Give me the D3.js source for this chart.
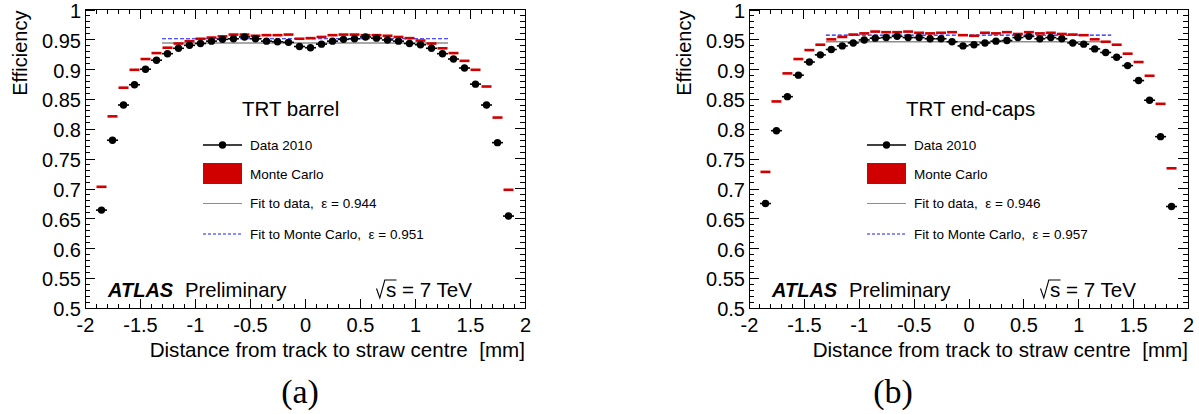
<!DOCTYPE html>
<html><head><meta charset="utf-8">
<script src="https://cdn.jsdelivr.net/npm/d3@7"></script>
<style>
body{margin:0;background:#fff}
text{font-family:"Liberation Sans",Arial,Helvetica,sans-serif;fill:#000}
</style>
</head><body>
<svg id="c" width="1199" height="414" xmlns="http://www.w3.org/2000/svg"></svg>
<script>
// ---------------- data ----------------
const binCentres = [-1.85,-1.75,-1.65,-1.55,-1.45,-1.35,-1.25,-1.15,-1.05,-0.95,-0.85,-0.75,-0.65,-0.55,-0.45,-0.35,-0.25,-0.15,-0.05,
                     0.05,0.15,0.25,0.35,0.45,0.55,0.65,0.75,0.85,0.95,1.05,1.15,1.25,1.35,1.45,1.55,1.65,1.75,1.85];
const binHalfWidth = 0.05;

const barrelData = [0.664,0.781,0.840,0.874,0.900,0.915,0.926,0.935,0.940,0.943,0.947,0.950,0.951,0.954,0.951,0.947,0.946,0.945,0.938,
                    0.936,0.942,0.947,0.950,0.951,0.954,0.952,0.949,0.947,0.943,0.941,0.935,0.926,0.917,0.902,0.875,0.840,0.777,0.654];
const barrelMC   = [0.703,0.821,0.869,0.899,0.917,0.927,0.936,0.943,0.947,0.951,0.953,0.955,0.958,0.958,0.956,0.957,0.957,0.958,0.951,
                    0.952,0.954,0.957,0.958,0.958,0.957,0.957,0.956,0.954,0.952,0.948,0.943,0.935,0.927,0.914,0.899,0.871,0.819,0.698];
const endcapData = [0.675,0.797,0.854,0.890,0.912,0.924,0.933,0.939,0.944,0.949,0.952,0.953,0.955,0.953,0.953,0.951,0.951,0.946,0.939,
                    0.941,0.944,0.947,0.948,0.953,0.955,0.951,0.953,0.951,0.944,0.942,0.934,0.928,0.920,0.906,0.881,0.848,0.787,0.670];
const endcapMC   = [0.728,0.846,0.893,0.917,0.932,0.941,0.950,0.954,0.958,0.960,0.963,0.962,0.962,0.963,0.961,0.960,0.961,0.962,0.957,
                    0.956,0.961,0.960,0.962,0.959,0.962,0.960,0.961,0.959,0.958,0.957,0.950,0.946,0.941,0.926,0.912,0.889,0.842,0.734];

const fitData  = [0.944, 0.946];
const fitMC    = [0.951, 0.957];
const fitRange = [-1.3, 1.3];

const panelTitles = ["TRT barrel", "TRT end-caps"];
const panelTags   = ["(a)", "(b)"];
const legendLabels = ["Data 2010", "Monte Carlo"];

const xTickValues = [-2,-1.5,-1,-0.5,0,0.5,1,1.5,2];
const xTickLabels = ["-2","-1.5","-1","-0.5","0","0.5","1","1.5","2"];
const yTickValues = [0.5,0.55,0.6,0.65,0.7,0.75,0.8,0.85,0.9,0.95,1];
const yTickLabels = ["0.5","0.55","0.6","0.65","0.7","0.75","0.8","0.85","0.9","0.95","1"];

const xTitle = "Distance from track to straw centre  [mm]";
const yTitle = "Efficiency";

// ---------------- drawing ----------------
const svg = d3.select("#c");
svg.append("rect").attr("width",1199).attr("height",414).attr("fill","#fff");

const RED = "#d00000", BLUE = "#1a1aff", GREY = "#8c8c8c";

const panels = [
  {left:85,  right:525,  data:barrelData, mc:barrelMC, tagX:300},
  {left:749, right:1188, data:endcapData, mc:endcapMC, tagX:893}
];
const plotTop = 9.5, plotBottom = 308;

panels.forEach((p, pi) => {
  const g = svg.append("g");
  const x = d3.scaleLinear().domain([-2, 2]).range([p.left, p.right]);
  const y = d3.scaleLinear().domain([0.5, 1]).range([plotBottom, plotTop]);

  // minor ticks
  const xMinor = d3.range(-20, 21).map(i => i / 10).filter(v => Math.abs(v*2 - Math.round(v*2)) > 1e-6);
  const yMinor = d3.range(50, 101).map(i => i / 100).filter(v => Math.abs(v*20 - Math.round(v*20)) > 1e-6);
  const tk = g.append("g").attr("stroke","#000").attr("stroke-width",1).attr("shape-rendering","crispEdges");
  xMinor.forEach(v => {
    tk.append("line").attr("x1",x(v)).attr("x2",x(v)).attr("y1",plotBottom).attr("y2",plotBottom-4.5);
    tk.append("line").attr("x1",x(v)).attr("x2",x(v)).attr("y1",plotTop).attr("y2",plotTop+4.5);
  });
  xTickValues.forEach(v => {
    tk.append("line").attr("x1",x(v)).attr("x2",x(v)).attr("y1",plotTop).attr("y2",plotTop+9);
  });
  yMinor.forEach(v => {
    tk.append("line").attr("x1",p.left).attr("x2",p.left+5).attr("y1",y(v)).attr("y2",y(v));
    tk.append("line").attr("x1",p.right).attr("x2",p.right-5).attr("y1",y(v)).attr("y2",y(v));
  });
  yTickValues.forEach(v => {
    tk.append("line").attr("x1",p.right).attr("x2",p.right-10).attr("y1",y(v)).attr("y2",y(v));
  });

  // axes with labels
  const xa = g.append("g").attr("transform",`translate(0,${plotBottom})`)
    .call(d3.axisBottom(x).tickValues(xTickValues).tickSize(-9).tickSizeOuter(0).tickPadding(10)
      .tickFormat((d,i) => xTickLabels[i]));
  const ya = g.append("g").attr("transform",`translate(${p.left},0)`)
    .call(d3.axisLeft(y).tickValues(yTickValues).tickSize(-10).tickSizeOuter(0).tickPadding(4)
      .tickFormat((d,i) => yTickLabels[i]));
  [xa, ya].forEach(a => {
    a.select(".domain").remove();
    a.selectAll("line").attr("stroke","#000").attr("shape-rendering","crispEdges");
    a.selectAll("text").style("font-family",'"Liberation Sans",Arial,sans-serif').style("font-size","20px").attr("fill","#000");
  });
  xa.selectAll("text").attr("dy","0.71em");
  ya.selectAll("text").attr("dy","0.39em");

  // frame
  g.append("rect").attr("x",p.left).attr("y",plotTop).attr("width",p.right-p.left).attr("height",plotBottom-plotTop)
    .attr("fill","none").attr("stroke","#000").attr("stroke-width",1).attr("shape-rendering","crispEdges");

  // fits
  g.append("line").attr("x1",x(fitRange[0])).attr("x2",x(fitRange[1]))
    .attr("y1",y(fitData[pi])).attr("y2",y(fitData[pi])).attr("stroke",GREY).attr("stroke-width",1.4);
  g.append("line").attr("x1",x(fitRange[0])).attr("x2",x(fitRange[1]))
    .attr("y1",y(fitMC[pi])).attr("y2",y(fitMC[pi])).attr("stroke",BLUE).attr("stroke-width",1.2)
    .attr("stroke-dasharray","4,2");

  // MC
  g.append("g").selectAll("rect").data(binCentres).join("rect")
    .attr("x", d => x(d - binHalfWidth) + 0.5)
    .attr("width", d => x(d + binHalfWidth) - x(d - binHalfWidth) - 1)
    .attr("y", (d,i) => y(p.mc[i]) - 1.3)
    .attr("height", 2.6)
    .attr("fill", RED);

  // data
  const dg = g.append("g");
  dg.selectAll("line").data(binCentres).join("line")
    .attr("x1", d => x(d - binHalfWidth)).attr("x2", d => x(d + binHalfWidth))
    .attr("y1", (d,i) => y(p.data[i])).attr("y2", (d,i) => y(p.data[i]))
    .attr("stroke","#000").attr("stroke-width",1.6);
  dg.selectAll("circle").data(binCentres).join("circle")
    .attr("cx", d => x(d)).attr("cy", (d,i) => y(p.data[i])).attr("r", 3.7).attr("fill","#000");

  // title text
  g.append("text").attr("x", p.left + 157).attr("y", 115.5).style("font-size","20.5px").text(panelTitles[pi]);

  // legend
  const lx = p.left + 118, lw = 39, tx = p.left + 165;
  g.append("line").attr("x1",lx).attr("x2",lx+lw).attr("y1",145).attr("y2",145).attr("stroke","#000").attr("stroke-width",1.6);
  g.append("circle").attr("cx",lx+lw/2).attr("cy",145).attr("r",3.7).attr("fill","#000");
  g.append("rect").attr("x",lx).attr("y",163).attr("width",lw).attr("height",21).attr("fill",RED);
  g.append("line").attr("x1",lx).attr("x2",lx+lw).attr("y1",203.5).attr("y2",203.5).attr("stroke",GREY).attr("stroke-width",1);
  g.append("line").attr("x1",lx).attr("x2",lx+lw).attr("y1",234).attr("y2",234).attr("stroke",BLUE).attr("stroke-width",1)
    .attr("stroke-dasharray","3,2");
  const legTexts = [legendLabels[0], legendLabels[1],
    `Fit to data,  \u03b5 = ${fitData[pi].toFixed(3)}`,
    `Fit to Monte Carlo,  \u03b5 = ${fitMC[pi].toFixed(3)}`];
  const legY = [145, 174, 203.5, 234];
  legTexts.forEach((t, i) => {
    g.append("text").attr("x", tx).attr("y", legY[i]).attr("dy","0.35em")
      .style("font-size","13.5px").style("white-space","pre").text(t);
  });

  // ATLAS Preliminary
  g.append("text").attr("x", p.left + 23).attr("y", 297).style("font-size","20px")
    .style("font-weight","bold").style("font-style","italic").text("ATLAS");
  g.append("text").attr("x", p.left + 100).attr("y", 297).style("font-size","20.3px").text("Preliminary");

  // sqrt(s) = 7 TeV
  const sx = p.left + 291.5, sb = 297;
  g.append("path").attr("d", `M${sx},${sb-8.5} L${sx+3.3},${sb+1} L${sx+8.3},${sb-17} L${sx+20},${sb-17}`)
    .attr("fill","none").attr("stroke","#000").attr("stroke-width",1.1);
  g.append("text").attr("x", sx + 9.5).attr("y", sb).style("font-size","20.6px").style("white-space","pre").text("s = 7 TeV");

  // axis titles
  g.append("text").attr("x", p.right).attr("y", 357).attr("text-anchor","end").style("font-size","20.6px")
    .style("white-space","pre").text(xTitle);
  g.append("text").attr("transform", `translate(${p.left - 58},${plotTop + 1}) rotate(-90)`).attr("text-anchor","end")
    .style("font-size","20px").text(yTitle);

  // tag
  g.append("text").attr("x", p.tagX).attr("y", 403).attr("text-anchor","middle")
    .style("font-family",'"Liberation Serif","Times New Roman",serif').style("font-size","34px").text(panelTags[pi]);
});
</script>
</body></html>
